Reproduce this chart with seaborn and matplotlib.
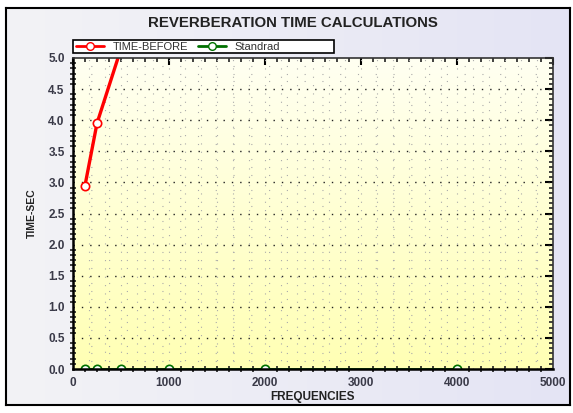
import matplotlib
matplotlib.use("Agg")
import matplotlib.pyplot as plt
import matplotlib.patches as mpatches
from matplotlib.lines import Line2D
from matplotlib.ticker import MultipleLocator, AutoMinorLocator, FormatStrFormatter
import numpy as np
import pandas as pd
import seaborn as sns

# data
frequencies = [125, 250, 500, 1000, 2000, 4000]
time_before = [2.95, 3.95, 5.15, 5.6, 5.9, 6.2]
standard = [0.0, 0.0, 0.0, 0.0, 0.0, 0.0]
series_names = ["TIME-BEFORE", "Standrad"]

sns.set_theme(style="white")
plt.rcParams['font.family'] = ['Liberation Sans', 'DejaVu Sans']

df = pd.DataFrame({
    "freq": frequencies * 2,
    "value": time_before + standard,
    "series": [series_names[0]] * len(frequencies) + [series_names[1]] * len(frequencies),
})

fig = plt.figure(figsize=(5.73, 4.13), dpi=100)
fig.patch.set_facecolor("white")

# panel background gradient with outer frame
bg = fig.add_axes([0.0105, 0.019, 0.984, 0.962], zorder=-10)
grad = np.linspace(0, 1, 256).reshape(1, -1)
bg.imshow(grad, aspect="auto", extent=[0, 1, 0, 1],
          cmap=matplotlib.colors.LinearSegmentedColormap.from_list("lav", ["#f3f3f6", "#e4e4f4"]))
bg.set_xticks([])
bg.set_yticks([])
for s in bg.spines.values():
    s.set_color("black")
    s.set_linewidth(1.5)

ax = fig.add_axes([0.1274, 0.1065, 0.8376, 0.7531])

# yellow gradient inside plot area
ygrad = np.linspace(0, 1, 256).reshape(-1, 1)
ax.imshow(ygrad, aspect="auto", extent=[0, 5000, 0, 5.0], origin="upper", zorder=0,
          cmap=matplotlib.colors.LinearSegmentedColormap.from_list("yel", ["#fffff2", "#ffffb4"]))

colors = {"TIME-BEFORE": "#ff0000", "Standrad": "#007000"}
for name in series_names:
    sub = df[df["series"] == name]
    sns.lineplot(data=sub, x="freq", y="value", ax=ax, color=colors[name],
                 linewidth=2.4 if name == "TIME-BEFORE" else 2.0,
                 marker="o", markersize=6, markerfacecolor="white",
                 markeredgecolor=colors[name], markeredgewidth=1.2,
                 legend=False, zorder=2)

ax.set_xlim(0, 5000)
ax.set_ylim(0, 5.0)

# dot grid
ax.xaxis.set_major_locator(MultipleLocator(1000))
ax.xaxis.set_minor_locator(MultipleLocator(125))
ax.yaxis.set_major_locator(MultipleLocator(0.5))
ax.yaxis.set_minor_locator(AutoMinorLocator(6))
for y in np.arange(0.5, 5.0, 0.5):
    ax.axhline(y, color="#222222", lw=1.0, ls=(0, (1, 5)), zorder=1)
for y in np.arange(0.125, 5.0, 0.125):
    if abs((y / 0.5) - round(y / 0.5)) > 1e-6:
        ax.axhline(y, color="#aaaaaa", lw=0.8, ls=(0, (1, 15)), zorder=1)
for x in np.arange(1000 / 6, 5000, 1000 / 6):
    ax.axvline(x, color="#aaaaaa", lw=0.8, ls=(0, (1, 6.5)), zorder=1)

ax.yaxis.set_major_formatter(FormatStrFormatter("%.1f"))
ax.tick_params(which="major", direction="inout", length=8, width=1.5, color="black",
               labelsize=8.5, labelcolor="#3a3a48", pad=2)
ax.tick_params(which="minor", direction="inout", length=5, width=1.2, color="#222222",
               left=True, bottom=True)
for lab in ax.get_xticklabels() + ax.get_yticklabels():
    lab.set_fontweight("bold")

# inward ticks on top and right edges
top = ax.secondary_xaxis("top")
top.xaxis.set_major_locator(MultipleLocator(1000))
top.xaxis.set_minor_locator(MultipleLocator(125))
top.tick_params(which="major", direction="in", length=5, width=1.5, color="black", labeltop=False)
top.tick_params(which="minor", direction="in", length=3, width=1.2, color="#222222")
right = ax.secondary_yaxis("right")
right.yaxis.set_major_locator(MultipleLocator(0.5))
right.yaxis.set_minor_locator(AutoMinorLocator(6))
right.tick_params(which="major", direction="in", length=6, width=1.5, color="black", labelright=False)
right.tick_params(which="minor", direction="in", length=3, width=1.2, color="#222222")
for sec in (top, right):
    for s in sec.spines.values():
        s.set_visible(False)

for side in ["left", "bottom"]:
    ax.spines[side].set_color("black")
    ax.spines[side].set_linewidth(1.8)
for side in ["top", "right"]:
    ax.spines[side].set_color("#333333")
    ax.spines[side].set_linewidth(1.2)

ax.set_xlabel("FREQUENCIES", fontsize=8.5, fontweight="bold", color="#222222", labelpad=1)
ax.set_ylabel("TIME-SEC", fontsize=7.5, fontweight="bold", color="#222222", labelpad=8)

fig.text(0.512, 0.944, "REVERBERATION TIME CALCULATIONS", ha="center", va="center",
         fontsize=10.8, fontweight="bold", color="#222222")

# legend box
fig.patches.append(mpatches.Rectangle((73 / 573, 1 - 53 / 413), 261 / 573, 13 / 413,
                                      transform=fig.transFigure, facecolor="white",
                                      edgecolor="black", linewidth=1.2, zorder=3))
handles = [Line2D([], [], color=colors[n], lw=2, marker="o", markersize=5.5,
                  markerfacecolor="white", markeredgecolor=colors[n]) for n in series_names]
fig.legend(handles, series_names, loc="center left", bbox_to_anchor=(76 / 573, 1 - 46.5 / 413),
           ncol=2, frameon=False, handlelength=2.5, handletextpad=0.8,
           columnspacing=0.9, borderpad=0, borderaxespad=0,
           prop={"size": 8}, labelcolor="#333333")

fig.savefig("out.png", dpi=100)
